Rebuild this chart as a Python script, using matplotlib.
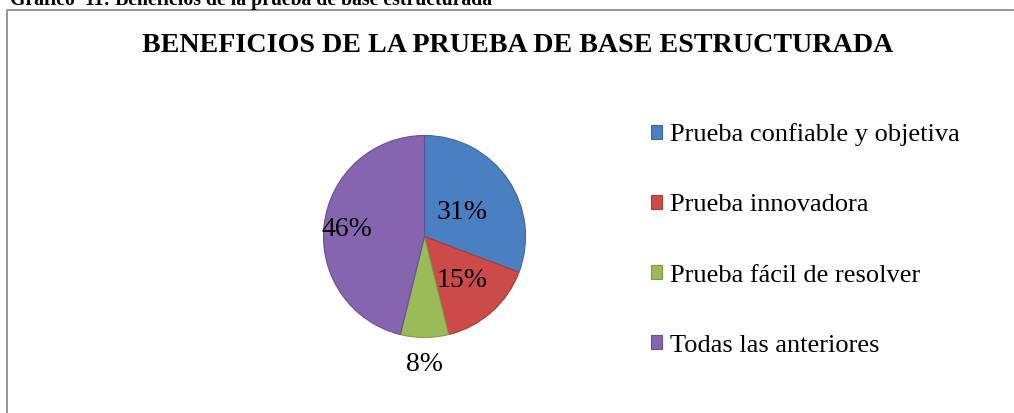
import numpy as np
import matplotlib
matplotlib.use("Agg")
import matplotlib.pyplot as plt
from matplotlib.lines import Line2D

plt.rcParams['font.family'] = ['Liberation Serif', 'DejaVu Serif']

# datos
categorias = ["Prueba confiable y objetiva", "Prueba innovadora",
              "Prueba fácil de resolver", "Todas las anteriores"]
frecuencias = [4, 2, 1, 6]
colores = ['#4A7FC1', '#CC4B48', '#9BBB59', '#8565B0']
bordes = ['#3A67A0', '#A53C3A', '#7E9A45', '#6A4F90']
dist_etiquetas = [0.45, 0.56, 1.25, 0.77]

W, H = 1014, 413
fig = plt.figure(figsize=(W / 100, H / 100), dpi=100)

# leyenda del gráfico (cortada arriba, como en el original) y marco
fig.text(10 / W, 1 - 5.5 / H, "Gráfico  11: Beneficios de la prueba de base estructurada",
         fontsize=14.2, fontweight='bold', ha='left', va='baseline')
fig.add_artist(Line2D([7 / W, 7 / W, 1013 / W], [0, 1 - 10 / H, 1 - 10 / H],
                      transform=fig.transFigure, color='#8c8c8c', lw=1.3))

fig.text(518 / W, 1 - 46 / H, "BENEFICIOS DE LA PRUEBA DE BASE ESTRUCTURADA",
         fontsize=20.2, fontweight='bold', ha='center', va='center')

# pastel
cx, cy, r = 424.5, 236.5, 101
ax = fig.add_axes([(cx - r) / W, (H - cy - r) / H, 2 * r / W, 2 * r / H])
wedges, _ = ax.pie(frecuencias, colors=colores, startangle=90, counterclock=False,
                   radius=1, wedgeprops=dict(linewidth=0.8))
for w, b in zip(wedges, bordes):
    w.set_edgecolor(b)
ax.set_xlim(-1, 1)
ax.set_ylim(-1, 1)
ax.set_aspect('equal')
ax.axis('off')

total = sum(frecuencias)
for w, f, d in zip(wedges, frecuencias, dist_etiquetas):
    ang = np.deg2rad((w.theta1 + w.theta2) / 2)
    ax.text(d * np.cos(ang), d * np.sin(ang) - 0.02, f"{round(100 * f / total)}%",
            fontsize=20, ha='center', va='center')

fig.legend(wedges, categorias, loc='center left', bbox_to_anchor=(651 / W, 1 - 240 / H),
           frameon=False, fontsize=19, handlelength=0.42, handleheight=0.42,
           handletextpad=0.3, labelspacing=1.82, borderpad=0, borderaxespad=0)

fig.savefig("out.png", dpi=100, facecolor='white')
